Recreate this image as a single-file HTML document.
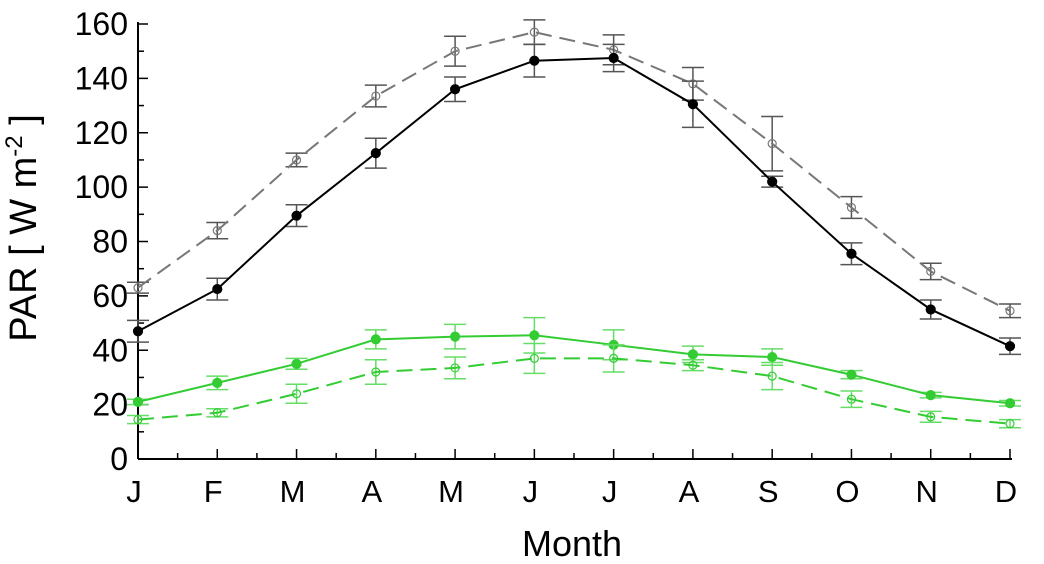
<!DOCTYPE html>
<html><head><meta charset="utf-8"><style>body{margin:0;background:#fff}svg{display:block}text{font-family:"Liberation Sans",Arial,sans-serif;fill:#000}</style></head>
<body>
<svg id="chart" width="1044" height="564" viewBox="0 0 1044 564"></svg>
<script>
const months=['J','F','M','A','M','J','J','A','S','O','N','D'];
const yTicks=[0,20,40,60,80,100,120,140,160];
const blackVals=[47,62.5,89.5,112.5,136,146.5,147.5,130.5,102,75.5,55,41.5];
const blackErr=[4,4,4,5.5,4.5,6,5,8.5,2,4,3.5,3];
const grayVals=[63,84,110,133.5,150,157,150.5,138,116,92.5,69,54.5];
const grayErr=[2,3,2.5,4,5.5,4.5,5.5,6,10,4,3,2.5];
const greenVals=[21,28,35,44,45,45.5,42,38.5,37.5,31,23.5,20.5];
const greenErr=[1,2.5,2,3.5,4.5,6.5,5.5,3,3,1.5,1,1];
const greenDashVals=[14.5,17,24,32,33.5,37,37,34.5,30.5,22,15.5,13];
const greenDashErr=[1.5,1.5,3.5,4.5,4,5.5,5,2,5,3,2,1.5];

const svg=document.getElementById('chart');const NS='http://www.w3.org/2000/svg';
const X0=138,X1=1010,Y0=459,Y1=24;
const xS=i=>X0+i*(X1-X0)/11;
const yS=v=>Y0-v*(Y0-Y1)/160;
function mk(t,a,p){const e=document.createElementNS(NS,t);for(const k in a)e.setAttribute(k,a[k]);(p||svg).appendChild(e);return e;}

const axes=mk('g',{});


mk('line',{x1:X0,y1:Y1-2,x2:X0,y2:Y0,stroke:'#000','stroke-width':2},axes);
mk('line',{x1:X0,y1:Y0,x2:X1+2,y2:Y0,stroke:'#000','stroke-width':2},axes);
for(let v=0;v<=160;v+=10){const y=yS(v);mk('line',{x1:X0,y1:y,x2:X0+(v%20==0?10:6),y2:y,stroke:'#000','stroke-width':1.5},axes);}
yTicks.forEach(v=>{const t=mk('text',{x:X0-10,y:yS(v)+11,'text-anchor':'end','font-size':32},axes);t.textContent=v;

});
for(let i=0;i<12;i++){mk('line',{x1:xS(i),y1:Y0,x2:xS(i),y2:Y0-10,stroke:'#000','stroke-width':1.5},axes);
if(i<11)mk('line',{x1:(xS(i)+xS(i+1))/2,y1:Y0,x2:(xS(i)+xS(i+1))/2,y2:Y0-6,stroke:'#000','stroke-width':1.5},axes);
const t=mk('text',{x:xS(i)-4,y:502,'text-anchor':'middle','font-size':31},axes);t.textContent=months[i];

}
const xt=mk('text',{x:572,y:556,'text-anchor':'middle','font-size':36});xt.textContent='Month';


const yt=mk('text',{x:0,y:0,'text-anchor':'middle','font-size':38,transform:'translate(36,228) rotate(-90)'});
yt.innerHTML='PAR [ W m<tspan dy="-14" font-size="24">-2</tspan><tspan dy="14"> ]</tspan>';



function series(name,vals,errs,col,ecol,dash,filled){
 const g=mk('g',{});
 
 
 vals.forEach((v,i)=>{const x=xS(i),a=yS(v+errs[i]),b=yS(v-errs[i]);
  mk('line',{x1:x,y1:a,x2:x,y2:b,stroke:ecol,'stroke-width':1.5},g);
  mk('line',{x1:x-11,y1:a,x2:x+11,y2:a,stroke:ecol,'stroke-width':1.5},g);
  mk('line',{x1:x-11,y1:b,x2:x+11,y2:b,stroke:ecol,'stroke-width':1.5},g);});
 mk('polyline',{points:vals.map((v,i)=>xS(i)+','+yS(v)).join(' '),fill:'none',stroke:col,'stroke-width':2,'stroke-dasharray':dash||'none'},g);
 vals.forEach((v,i)=>{const c=mk('circle',{cx:xS(i),cy:yS(v),r:filled?4.5:4,fill:filled?col:'none',stroke:col,'stroke-width':1.2},g);
  
  });
}
series('series-gray-dashed',grayVals,grayErr,'#777','#555','16,8',false);
series('series-black',blackVals,blackErr,'#000','#555',null,true);
series('series-green',greenVals,greenErr,'#33cc33','#66dd66',null,true);
series('series-green-dashed',greenDashVals,greenDashErr,'#33cc33','#66dd66','16,8',false);
</script>
</body></html>
